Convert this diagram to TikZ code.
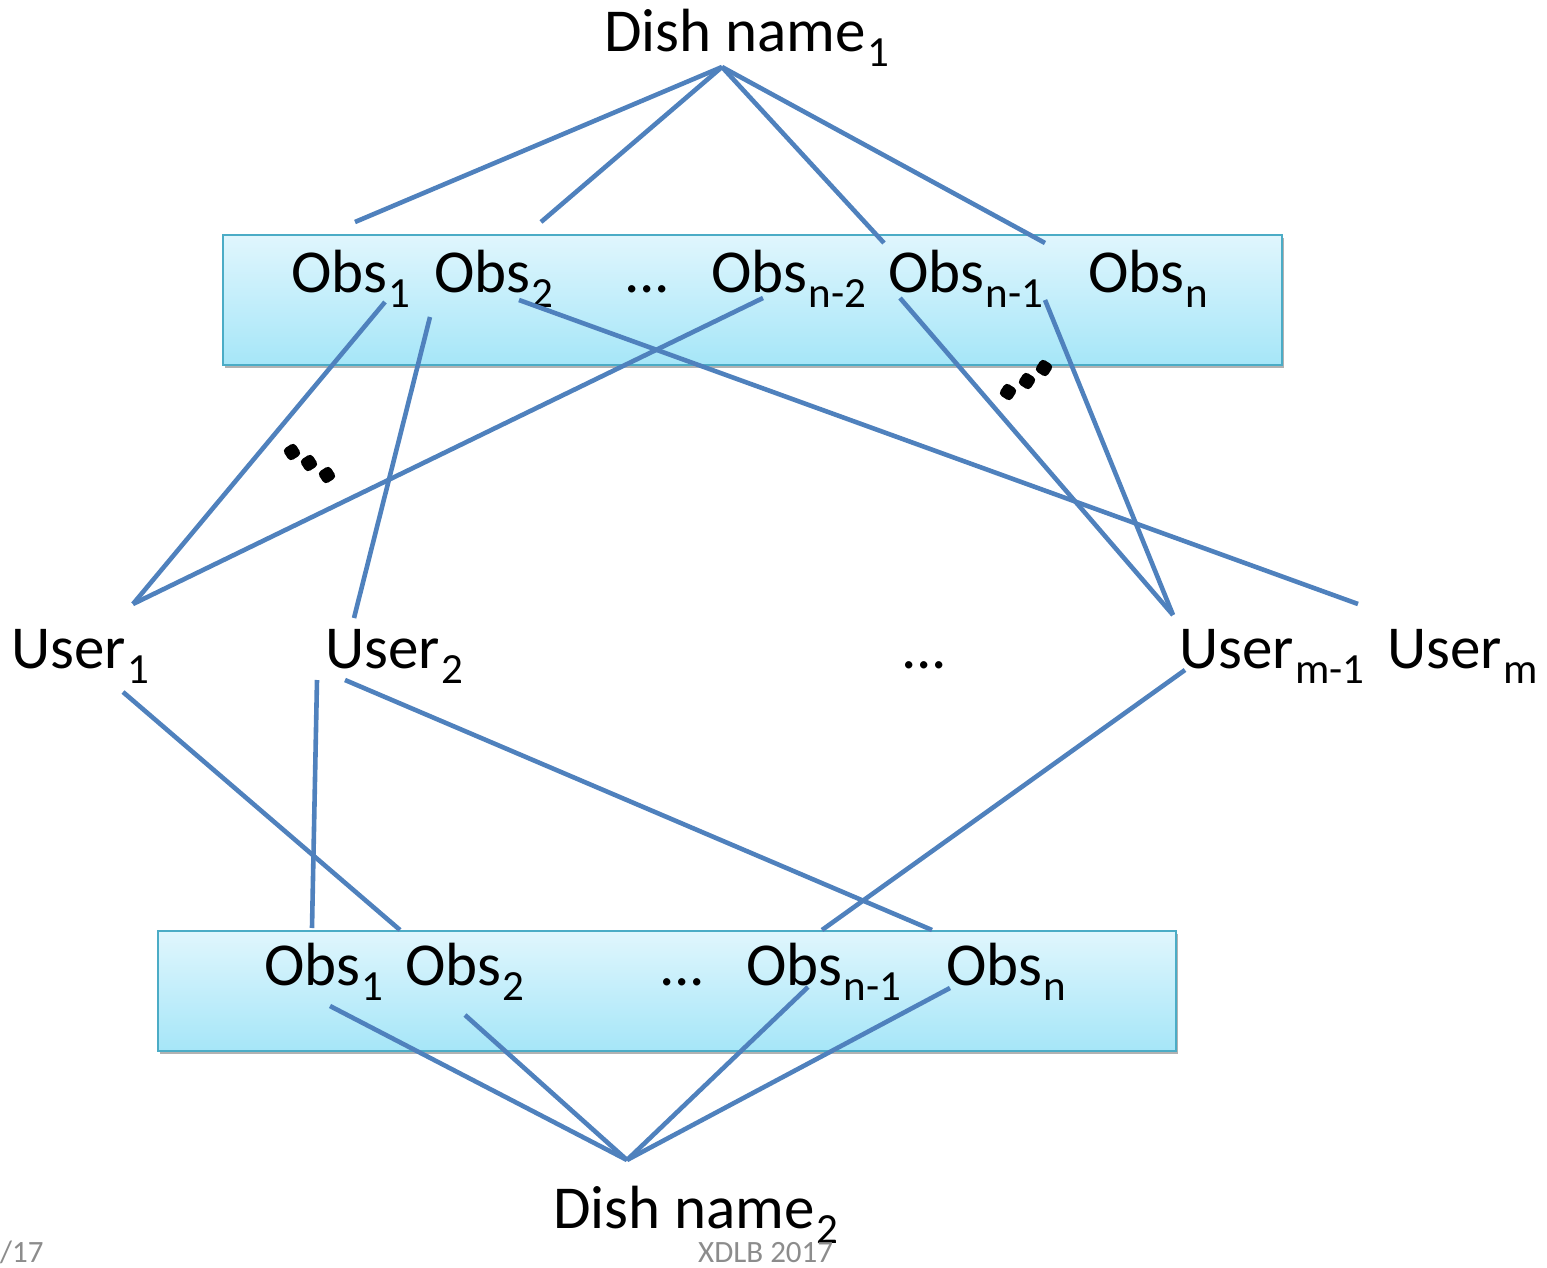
\documentclass[tikz,border=0pt]{standalone}
\usepackage{fontspec}
\setmainfont{Carlito}
\usetikzlibrary{shadows}
\definecolor{lnc}{HTML}{4F81BD}
\definecolor{boxtop}{HTML}{E0F6FD}
\definecolor{boxbot}{HTML}{A6E6F8}
\definecolor{boxdraw}{HTML}{4BACC6}
\definecolor{footc}{HTML}{8C8C8C}
\newcommand{\sbs}[1]{\kern1.5pt\raisebox{-15pt}{\fontsize{43}{43}\selectfont #1}}
\begin{document}
\begin{tikzpicture}[x=1pt,y=-1pt,
  lbl/.style={inner sep=0pt, anchor=base west, font=\fontsize{61}{61}\selectfont},
  foot/.style={inner sep=0pt, anchor=base west, text=footc, font=\fontsize{31}{31}\selectfont},
  conn/.style={draw=lnc, line width=4.6pt},
  obsbox/.style={draw=boxdraw, line width=1.5pt, top color=boxtop, bottom color=boxbot,
    anchor=north west, inner sep=0pt,
    drop shadow={shadow xshift=2pt, shadow yshift=-3pt, opacity=0.3, fill=black}},
  dotm/.style={fill=black, rounded corners=4pt, minimum size=14pt, inner sep=0pt}
]
\useasboundingbox (0,0) rectangle (1547,1268);

% boxes
\node[obsbox, minimum width=1059pt, minimum height=130pt] (box1) at (222,234) {};
\node[obsbox, minimum width=1018pt, minimum height=120pt] (box2) at (157,930) {};

% labels
\node[lbl] (dn1) at (604,52) {Dish name\sbs{1}};
\node[lbl] (t1) at (291,292) {Obs\sbs{1}};
\node[lbl] (t2) at (434,292) {Obs\sbs{2}};
\node[lbl] (tdots) at (624,292) {...};
\node[lbl] (tn2) at (711,292) {Obs\sbs{n-2}};
\node[lbl] (tn1) at (888,292) {Obs\sbs{n-1}};
\node[lbl] (tn) at (1088,292) {Obs\sbs{n}};

\node[lbl] (u1) at (11,668) {User\sbs{1}};
\node[lbl] (u2) at (325,668) {User\sbs{2}};
\node[lbl] (udots) at (901,668) {...};
\node[lbl] (um1) at (1179,668) {User\sbs{m-1}};
\node[lbl] (um) at (1387,668) {User\sbs{m}};

\node[lbl] (b1) at (264,985) {Obs\sbs{1}};
\node[lbl] (b2) at (405,985) {Obs\sbs{2}};
\node[lbl] (bdots) at (659,985) {...};
\node[lbl] (bn1) at (746,985) {Obs\sbs{n-1}};
\node[lbl] (bn) at (946,985) {Obs\sbs{n}};

\node[lbl] (dn2) at (553,1228) {Dish name\sbs{2}};

\node[foot] (f1) at (0,1262) {/17};
\node[foot] (f2) at (698,1262) {XDLB 2017};

% connector end points
\coordinate (d1) at (722,67);
\coordinate (t1up) at (355,222);
\coordinate (t2up) at (541,222);
\coordinate (tn1up) at (884,243);
\coordinate (tnup) at (1045,243);
\coordinate (t1dn) at (385,302);
\coordinate (t2dn) at (430,317);
\coordinate (t2dnb) at (519,300);
\coordinate (tn2dn) at (763,298);
\coordinate (tn1dn) at (900,298);
\coordinate (tndn) at (1045,300);
\coordinate (u1up) at (133,604);
\coordinate (u2up) at (354,618);
\coordinate (um1up) at (1173,615);
\coordinate (umup) at (1358,604);
\coordinate (u1dn) at (123,692);
\coordinate (u2dn) at (317,680);
\coordinate (u2dnb) at (345,680);
\coordinate (um1dn) at (1185,670);
\coordinate (b1up) at (312,928);
\coordinate (b2up) at (400,930);
\coordinate (bn1up) at (822,930);
\coordinate (bnup) at (932,930);
\coordinate (b1dn) at (330,1006);
\coordinate (b2dn) at (465,1015);
\coordinate (bn1dn) at (808,987);
\coordinate (bndn) at (950,988);
\coordinate (d2) at (627,1160);

% connectors
\draw[conn] (d1) -- (t1up);
\draw[conn] (d1) -- (t2up);
\draw[conn] (d1) -- (tn1up);
\draw[conn] (d1) -- (tnup);
\draw[conn] (t1dn) -- (u1up);
\draw[conn] (tn2dn) -- (u1up);
\draw[conn] (t2dn) -- (u2up);
\draw[conn] (t2dnb) -- (umup);
\draw[conn] (tn1dn) -- (um1up);
\draw[conn] (tndn) -- (um1up);
\draw[conn] (u1dn) -- (b2up);
\draw[conn] (u2dn) -- (b1up);
\draw[conn] (u2dnb) -- (bnup);
\draw[conn] (um1dn) -- (bn1up);
\draw[conn] (b1dn) -- (d2);
\draw[conn] (b2dn) -- (d2);
\draw[conn] (bn1dn) -- (d2);
\draw[conn] (bndn) -- (d2);

% rotated ellipsis dots
\node[dotm, rotate=33] (la) at (292,452) {};
\node[dotm, rotate=33] (lb) at (309,463) {};
\node[dotm, rotate=33] (lc) at (327,475) {};
\node[dotm, rotate=-33] (ra) at (1008,392) {};
\node[dotm, rotate=-33] (rb) at (1027,381) {};
\node[dotm, rotate=-33] (rc) at (1044,368) {};
\end{tikzpicture}
\end{document}
